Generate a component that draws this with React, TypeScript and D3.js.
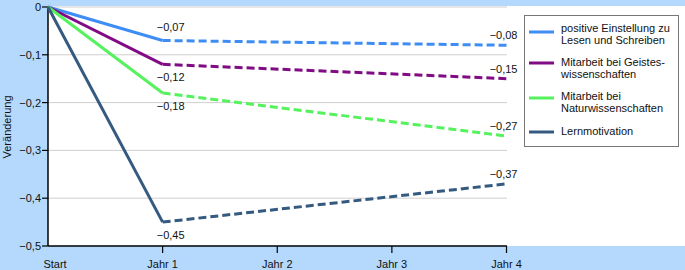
import React from "react";
import { scalePoint, scaleLinear, line } from "d3";

const categories = ["Start", "Jahr 1", "Jahr 2", "Jahr 3", "Jahr 4"];
const yTicks = [0, -0.1, -0.2, -0.3, -0.4, -0.5];

const seriesNames = [
  ["positive Einstellung zu", "Lesen und Schreiben"],
  ["Mitarbeit bei Geistes-", "wissenschaften"],
  ["Mitarbeit bei", "Naturwissenschaften"],
  ["Lernmotivation"],
];
const seriesColors = ["#3d8df5", "#810a85", "#55f25e", "#355a80"];
// values at Start, Jahr 1, Jahr 4
const startValues = [0, 0, 0, 0];
const jahr1Values = [-0.07, -0.12, -0.18, -0.45];
const jahr4Values = [-0.08, -0.15, -0.27, -0.37];
// label above (-1) or below (+1) the Jahr 1 point
const jahr1LabelSide = [-1, 1, 1, 1];

const fmt = (v: number) => (v === 0 ? "0" : "\u2212" + Math.abs(v).toFixed(2).replace(".", ","));
const fmtTick = (v: number) => (v === 0 ? "0" : "\u2212" + Math.abs(v).toFixed(1).replace(".", ","));

const W = 685;
const H = 270;
const font = "'Liberation Sans', Arial, Helvetica, sans-serif";

export default function App() {
  const x = scalePoint<string>().domain(categories).range([48, 506.5]);
  const y = scaleLinear().domain([0, -0.5]).range([7, 246]);
  const lineGen = line<[string, number]>()
    .x(d => x(d[0]) as number)
    .y(d => y(d[1]));

  const legendX = 524;
  const legendLineY = [32, 63, 98, 132];
  const legendTextY = [32, 66, 100, 135];

  return (
    <svg
      width={W}
      height={H}
      style={{ position: "absolute", left: 0, top: 0, fontFamily: font }}
    >
      <rect x={0} y={0} width={W} height={H} fill="#b5d9fc" />
      <rect x={48} y={6} width={W - 48} height={240} fill="#ffffff" />

      {/* grid */}
      {yTicks.slice(0, -1).map(t => (
        <line key={t} x1={48} x2={507} y1={y(t)} y2={y(t)} stroke="#cfcfcf" strokeWidth={1} />
      ))}

      {/* y axis */}
      <line x1={48} x2={48} y1={y(0)} y2={y(-0.5)} stroke="#000" strokeWidth={1.5} />
      {yTicks.map(t => (
        <g key={t}>
          <line x1={42} x2={48} y1={y(t)} y2={y(t)} stroke="#000" strokeWidth={1.2} />
          <text x={41} y={y(t) + 4} fontSize={11} textAnchor="end" fill="#111">
            {fmtTick(t)}
          </text>
        </g>
      ))}
      <text
        transform={`translate(11,127) rotate(-90)`}
        fontSize={11}
        textAnchor="middle"
        fill="#111"
      >
        Veränderung
      </text>

      {/* x axis */}
      <line x1={48} x2={507} y1={246} y2={246} stroke="#000" strokeWidth={1.5} />
      {categories.map((c, i) => (
        <g key={c}>
          {i > 0 && (
            <line x1={x(c)} x2={x(c)} y1={246} y2={253} stroke="#000" strokeWidth={1.2} />
          )}
          <text
            x={(x(c) as number) + (i === 0 ? 7 : 0)}
            y={268}
            fontSize={11}
            textAnchor="middle"
            fill="#111"
          >
            {c}
          </text>
        </g>
      ))}

      {/* series */}
      {seriesColors.map((col, i) => {
        const solid: [string, number][] = [
          ["Start", startValues[i]],
          ["Jahr 1", jahr1Values[i]],
        ];
        const dashed: [string, number][] = [
          ["Jahr 1", jahr1Values[i]],
          ["Jahr 4", jahr4Values[i]],
        ];
        return (
          <g key={i}>
            <path d={lineGen(solid) || ""} fill="none" stroke={col} strokeWidth={3} strokeLinejoin="round" />
            <path d={lineGen(dashed) || ""} fill="none" stroke={col} strokeWidth={3} strokeDasharray="8,4" />
          </g>
        );
      })}

      {/* value labels */}
      {jahr1Values.map((v, i) => (
        <text
          key={"j1" + i}
          x={(x("Jahr 1") as number) + 8}
          y={y(v) + (jahr1LabelSide[i] < 0 ? -9 : 17)}
          fontSize={11}
          textAnchor="middle"
          fill="#111"
        >
          {fmt(v)}
        </text>
      ))}
      {jahr4Values.map((v, i) => (
        <text
          key={"j4" + i}
          x={(x("Jahr 4") as number) + 11}
          y={y(v) - 6}
          fontSize={11}
          textAnchor="end"
          fill="#111"
        >
          {fmt(v)}
        </text>
      ))}

      {/* legend */}
      <rect x={legendX + 0.5} y={15.5} width={154} height={131} fill="#fff" stroke="#777" strokeWidth={1} />
      {seriesNames.map((lines, i) => (
        <g key={i}>
          <line
            x1={legendX + 5}
            x2={legendX + 30}
            y1={legendLineY[i]}
            y2={legendLineY[i]}
            stroke={seriesColors[i]}
            strokeWidth={3}
          />
          {lines.map((t, j) => (
            <text
              key={j}
              x={legendX + 37}
              y={legendTextY[i] + j * 12}
              fontSize={11}
              fill="#111"
            >
              {t}
            </text>
          ))}
        </g>
      ))}
    </svg>
  );
}
